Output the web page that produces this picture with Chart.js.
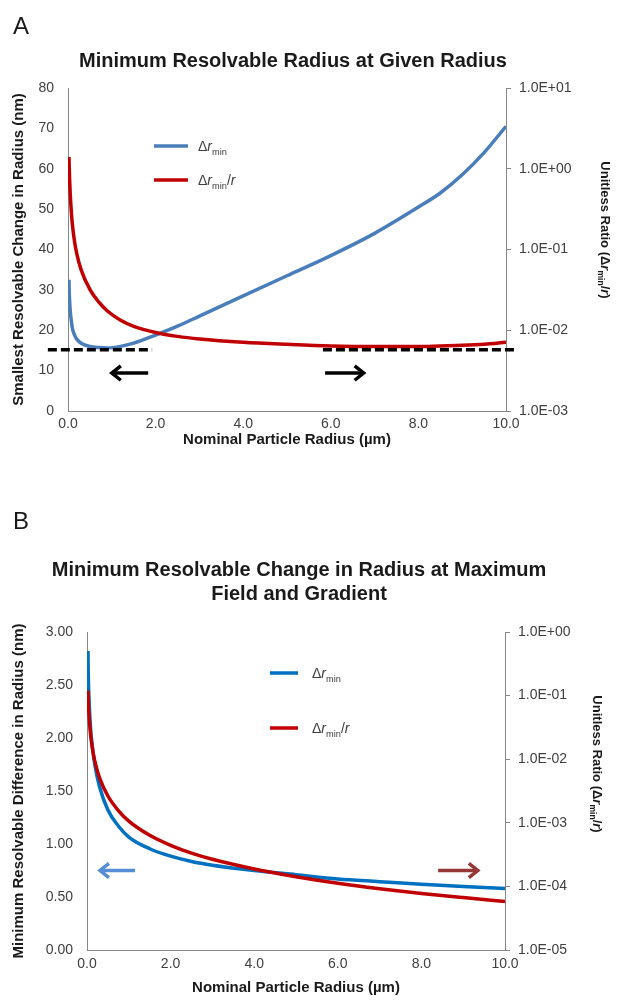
<!DOCTYPE html>
<html><head><meta charset="utf-8">
<script src="https://cdn.jsdelivr.net/npm/chart.js@4.4.1/dist/chart.umd.min.js"></script>
<style>
html,body{margin:0;padding:0;background:#fff;width:619px;height:1003px;overflow:hidden;}
canvas{position:absolute;left:0;}
#chartA{top:0;}
#chartB{top:470px;}
</style></head><body>
<canvas id="chartA" width="619" height="470"></canvas>
<canvas id="chartB" width="619" height="533"></canvas>
<script>
// ---------- DATA ----------
const radiusA = [0.023,0.03,0.05,0.08,0.1,0.15,0.2,0.3,0.5,0.7,0.9,1.2,1.5,2.0,2.5,3.0,4.0,5.0,6.0,7.0,8.0,8.5,9.0,9.5,10.0];
const deltaRminA = [32.5,29,25,22,20.5,18.8,17.8,16.8,16,15.7,15.6,16,16.8,18.8,21,23.5,28.5,33.5,38.5,44,50.5,54,58.5,64,70.5];
const ratioA = [1.4,0.95,0.5,0.275,0.205,0.125,0.089,0.056,0.032,0.0224,0.0173,0.0133,0.0112,0.0094,0.0084,0.0078,0.0071,0.0067,0.0064,0.0063,0.0063,0.0064,0.0065,0.0067,0.0071];
const ratioTicksA = [1e-3,1e-2,1e-1,1e0,1e1];

const radiusB = [0.023,0.03,0.05,0.08,0.1,0.15,0.2,0.3,0.5,0.75,1.0,1.5,2.0,2.5,3.0,4.0,5.0,6.0,7.0,8.0,9.0,10.0];
const deltaRminB = [2.82,2.6,2.35,2.12,2.02,1.85,1.72,1.54,1.32,1.17,1.065,0.955,0.885,0.835,0.80,0.75,0.71,0.67,0.645,0.62,0.60,0.58];
const ratioB = [0.12,0.082,0.047,0.0265,0.0202,0.0123,0.0086,0.0051,0.00264,0.00156,0.001065,0.000637,0.000443,0.000334,0.000267,0.000188,0.000142,0.000112,0.000092,0.0000775,0.0000667,0.000058];
const ratioTicksB = [1e-5,1e-4,1e-3,1e-2,1e-1,1e0];
const xTicks = [0,2,4,6,8,10];

// annotation marks, in data units
const guideA = { dashY: 15.2, dashLeft: [-0.46, 1.92], dashRight: [5.82, 10.27], arrowY: 9.4, arrowLeft: [1.83, 1.0], arrowRight: [5.87, 6.75] };
const guideB = { arrowY: 0.75, arrowLeft: [1.15, 0.31], arrowRight: [8.4, 9.35] };

// ---------- TEXT ----------
const titleA = ['Minimum Resolvable Radius at Given Radius'];
const titleB = ['Minimum Resolvable Change in Radius at Maximum', 'Field and Gradient'];
const xTitle = 'Nominal Particle Radius (\u00b5m)';
const leftTitleA = 'Smallest Resolvable Change in Radius (nm)';
const leftTitleB = 'Minimum Resolvable Difference in Radius (nm)';
const rightTitleParts = [{t:'Unitless Ratio ('},{t:'\u0394'},{t:'r',italic:true},{t:'min',sub:true},{t:'/'},{t:'r',italic:true},{t:')'}];
const legend1Parts = [{t:'\u0394'},{t:'r',italic:true},{t:'min',sub:true}];
const legend2Parts = [{t:'\u0394'},{t:'r',italic:true},{t:'min',sub:true},{t:'/'},{t:'r',italic:true}];

// ---------- STYLE ----------
const FAM = '"Liberation Sans", Arial, Helvetica, sans-serif';
Chart.defaults.font.family = FAM;
const axisColor = '#868686';
const tickColor = '#404040';
const textColor = '#1a1a1a';
const blueA = '#4a7ebb', redA = '#c00000';
const blueB = '#0070c0', redB = '#c00000';
const arrowBlue = '#558ed5', arrowRed = '#953735';

function fmtE(v){
  const e = Math.round(Math.log10(v));
  return '1.0E' + (e < 0 ? '-' : '+') + String(Math.abs(e)).padStart(2,'0');
}

function drawRich(ctx, parts, x, y, rot, size, bold, color, align){
  ctx.save();
  ctx.translate(x, y);
  ctx.rotate(rot);
  ctx.fillStyle = color;
  ctx.textBaseline = 'alphabetic';
  ctx.textAlign = 'left';
  const fonts = parts.map(p => (p.italic?'italic ':'') + (bold?'bold ':'') + (p.sub ? size*0.66 : size) + 'px ' + FAM);
  let total = 0;
  const widths = parts.map((p,i) => { ctx.font = fonts[i]; const w = ctx.measureText(p.t).width; total += w; return w; });
  let cx = align === 'left' ? 0 : -total/2;
  const base = size*0.36;
  parts.forEach((p,i) => {
    ctx.font = fonts[i];
    ctx.fillText(p.t, cx, base + (p.sub ? size*0.26 : 0));
    cx += widths[i];
  });
  ctx.restore();
}
function drawText(ctx, txt, x, y, rot, size, bold, color){
  drawRich(ctx, [{t:txt}], x, y, rot, size, bold, color, 'center');
}
function hline(ctx, xa, xb, y, color, lw, dash){
  ctx.save(); ctx.strokeStyle = color; ctx.lineWidth = lw; ctx.setLineDash(dash || []);
  ctx.beginPath(); ctx.moveTo(xa, y); ctx.lineTo(xb, y); ctx.stroke(); ctx.restore();
}
function arrow(ctx, xTail, xHead, y, color, lw, head){
  const d = Math.sign(xHead - xTail);
  ctx.save(); ctx.strokeStyle = color; ctx.lineWidth = lw; ctx.lineCap = 'butt'; ctx.lineJoin = 'miter';
  ctx.beginPath(); ctx.moveTo(xTail, y); ctx.lineTo(xHead - d*1.5, y); ctx.stroke();
  ctx.beginPath(); ctx.moveTo(xHead - d*head, y - head*0.8); ctx.lineTo(xHead, y); ctx.lineTo(xHead - d*head, y + head*0.8); ctx.stroke();
  ctx.restore();
}
function legendItem(ctx, x0, x1, y, color, parts, tx){
  hline(ctx, x0, x1, y, color, 3.5);
  drawRich(ctx, parts, tx, y, 0, 14, false, '#404040', 'left');
}

function pts(xs, ys){ return xs.map((x,i) => ({x, y: ys[i]})); }

function scalesFor(o){
  const common = { grid:{drawOnChartArea:false, drawTicks:false, color:axisColor}, border:{display:true, color:axisColor, width:1} };
  return {
    x: { type:'linear', min:0, max:10,
      afterBuildTicks: s => { s.ticks = xTicks.map(v => ({value:v})); },
      ticks:{ callback: v => Number(v).toFixed(1), font:{size:14}, color:tickColor, padding:o.xPad, maxRotation:0, autoSkip:false },
      ...common, afterFit: s => { s.height = 30; } },
    y: { position:'left', min:o.yMin, max:o.yMax,
      ticks:{ stepSize:o.yStep, callback: v => Number(v).toFixed(o.yDec), font:{size:14}, color:tickColor, padding:o.yPad, autoSkip:false },
      ...common, afterFit: s => { s.width = o.leftW; } },
    y1: { type:'logarithmic', position:'right', min:o.rMin, max:o.rMax,
      afterBuildTicks: s => { s.ticks = o.rTicks.map(v => ({value:v, major:true})); },
      ticks:{ callback: v => fmtE(v), font:{size:14}, color:tickColor, padding:8, autoSkip:false, major:{enabled:false} },
      grid:{drawOnChartArea:false, drawTicks:true, tickLength:5, color:axisColor},
      border:{display:true, color:axisColor, width:1},
      afterFit: s => { s.width = o.rightW; } }
  };
}

// ---------- CHART A ----------
const overlayA = {
  id:'overlayA',
  afterDatasetsDraw(chart){
    const ctx = chart.ctx, sx = chart.scales.x, sy = chart.scales.y;
    const yd = sy.getPixelForValue(guideA.dashY);
    hline(ctx, sx.getPixelForValue(guideA.dashLeft[0]), sx.getPixelForValue(guideA.dashLeft[1]), yd, '#000', 3.5, [9,4]);
    hline(ctx, sx.getPixelForValue(guideA.dashRight[0]), sx.getPixelForValue(guideA.dashRight[1]), yd, '#000', 3.5, [9,4]);
    const ya = sy.getPixelForValue(guideA.arrowY);
    arrow(ctx, sx.getPixelForValue(guideA.arrowLeft[0]), sx.getPixelForValue(guideA.arrowLeft[1]), ya, '#000', 3.5, 9);
    arrow(ctx, sx.getPixelForValue(guideA.arrowRight[0]), sx.getPixelForValue(guideA.arrowRight[1]), ya, '#000', 3.5, 9);
  },
  afterDraw(chart){
    const ctx = chart.ctx, a = chart.chartArea;
    ctx.save(); ctx.font = '24px ' + FAM; ctx.fillStyle = textColor; ctx.textBaseline='middle'; ctx.fillText('A', 13, 27); ctx.restore();
    drawText(ctx, titleA[0], 293, 60, 0, 20, true, textColor);
    drawText(ctx, leftTitleA, 18, (a.top+a.bottom)/2, -Math.PI/2, 15, true, textColor);
    drawText(ctx, xTitle, (a.left+a.right)/2, 439, 0, 15, true, textColor);
    drawRich(ctx, rightTitleParts, 606, 230, Math.PI/2, 13, true, textColor, 'center');
    const d = chart.data.datasets;
    legendItem(ctx, 154, 188, 146, d[0].borderColor, legend1Parts, 198);
    legendItem(ctx, 154, 188, 180, d[1].borderColor, legend2Parts, 198);
  }
};
new Chart(document.getElementById('chartA'), {
  type:'line',
  data:{ datasets:[
    { label:'\u0394r min', data: pts(radiusA, deltaRminA), yAxisID:'y', order:1, borderColor:blueA, borderWidth:3.5, pointRadius:0, cubicInterpolationMode:'monotone', fill:false },
    { label:'\u0394r min / r', data: pts(radiusA, ratioA), yAxisID:'y1', order:0, borderColor:redA, borderWidth:3.5, pointRadius:0, cubicInterpolationMode:'monotone', fill:false }
  ]},
  options:{
    responsive:false, animation:false, devicePixelRatio:1,
    layout:{ padding:{ top:88, left:0, right:0, bottom:29 } },
    plugins:{ legend:{display:false}, tooltip:{enabled:false}, title:{display:false} },
    scales: scalesFor({ yMin:0, yMax:80, yStep:10, yDec:0, yPad:14, leftW:68, rMin:1e-3, rMax:10, rTicks:ratioTicksA, rightW:113, xPad:5 })
  },
  plugins:[overlayA]
});

// ---------- CHART B ----------
const OFF = 470;
const overlayB = {
  id:'overlayB',
  afterDatasetsDraw(chart){
    const ctx = chart.ctx, sx = chart.scales.x, sy = chart.scales.y;
    const ya = sy.getPixelForValue(guideB.arrowY);
    arrow(ctx, sx.getPixelForValue(guideB.arrowLeft[0]), sx.getPixelForValue(guideB.arrowLeft[1]), ya, arrowBlue, 3.5, 9);
    arrow(ctx, sx.getPixelForValue(guideB.arrowRight[0]), sx.getPixelForValue(guideB.arrowRight[1]), ya, arrowRed, 3.5, 9);
  },
  afterDraw(chart){
    const ctx = chart.ctx, a = chart.chartArea;
    ctx.save(); ctx.font = '24px ' + FAM; ctx.fillStyle = textColor; ctx.textBaseline='middle'; ctx.fillText('B', 13, 522-OFF); ctx.restore();
    drawText(ctx, titleB[0], 299, 569-OFF, 0, 20, true, textColor);
    drawText(ctx, titleB[1], 299, 593-OFF, 0, 20, true, textColor);
    drawText(ctx, leftTitleB, 18, (a.top+a.bottom)/2, -Math.PI/2, 15, true, textColor);
    drawText(ctx, xTitle, (a.left+a.right)/2, 987-OFF, 0, 15, true, textColor);
    drawRich(ctx, rightTitleParts, 598, 764-OFF, Math.PI/2, 13, true, textColor, 'center');
    const d = chart.data.datasets;
    legendItem(ctx, 270, 298, 673-OFF, d[0].borderColor, legend1Parts, 312);
    legendItem(ctx, 270, 298, 728-OFF, d[1].borderColor, legend2Parts, 312);
  }
};
new Chart(document.getElementById('chartB'), {
  type:'line',
  data:{ datasets:[
    { label:'\u0394r min', data: pts(radiusB, deltaRminB), yAxisID:'y', order:1, borderColor:blueB, borderWidth:3.5, pointRadius:0, cubicInterpolationMode:'monotone', fill:false },
    { label:'\u0394r min / r', data: pts(radiusB, ratioB), yAxisID:'y1', order:0, borderColor:redB, borderWidth:3.5, pointRadius:0, cubicInterpolationMode:'monotone', fill:false }
  ]},
  options:{
    responsive:false, animation:false, devicePixelRatio:1,
    layout:{ padding:{ top:632-OFF, left:0, right:0, bottom:533-(950-OFF)-30 } },
    plugins:{ legend:{display:false}, tooltip:{enabled:false}, title:{display:false} },
    scales: scalesFor({ yMin:0, yMax:3, yStep:0.5, yDec:2, yPad:14, leftW:87, rMin:1e-5, rMax:1, rTicks:ratioTicksB, rightW:114, xPad:6 })
  },
  plugins:[overlayB]
});
</script>
</body></html>
